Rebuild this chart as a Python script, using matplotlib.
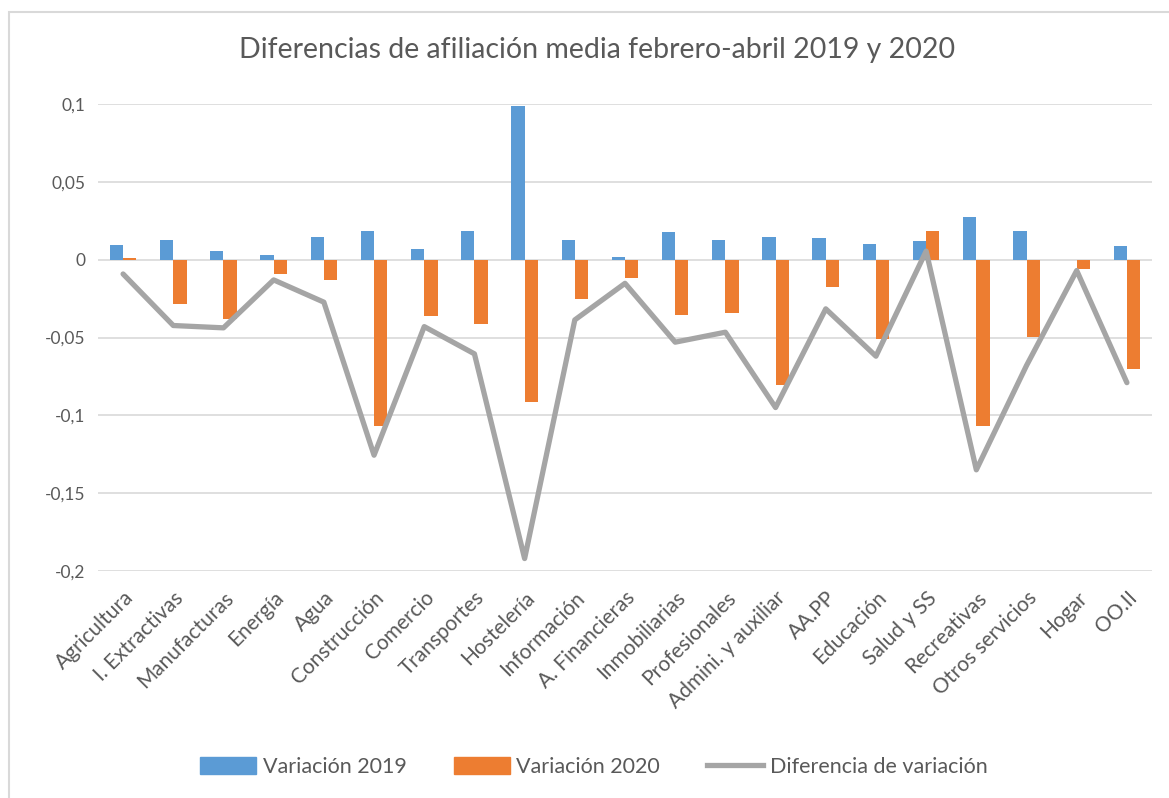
#!/usr/bin/env python3
"""Diferencias de afiliación media febrero-abril 2019 y 2020."""

import numpy as np
import matplotlib

matplotlib.use("Agg")
import matplotlib.pyplot as plt
from matplotlib.lines import Line2D
from matplotlib.patches import Patch, Rectangle
from matplotlib.ticker import FuncFormatter


sectores = [
    "Agricultura", "I. Extractivas", "Manufacturas", "Energía", "Agua",
    "Construcción", "Comercio", "Transportes", "Hostelería", "Información",
    "A. Financieras", "Inmobiliarias", "Profesionales", "Admini. y auxiliar",
    "AA.PP", "Educación", "Salud y SS", "Recreativas", "Otros servicios",
    "Hogar", "OO.II",
]
variacion_2019 = [
    0.0095, 0.0127, 0.0053, 0.0030, 0.0144, 0.0184, 0.0068, 0.0184, 0.0990,
    0.0128, 0.0020, 0.0177, 0.0128, 0.0145, 0.0136, 0.0102, 0.0120, 0.0277,
    0.0184, 0.0000, 0.0088,
]
variacion_2020 = [
    0.0010, -0.0282, -0.0380, -0.0094, -0.0128, -0.1070, -0.0359, -0.0414,
    -0.0917, -0.0250, -0.0118, -0.0357, -0.0340, -0.0808, -0.0175, -0.0510,
    0.0185, -0.1070, -0.0496, -0.0060, -0.0700,
]
diferencia = [
    -0.0092, -0.0423, -0.0438, -0.0130, -0.0273, -0.1256, -0.0430, -0.0605,
    -0.1920, -0.0387, -0.0152, -0.0530, -0.0466, -0.0950, -0.0316, -0.0620,
    0.0055, -0.1350, -0.0680, -0.0070, -0.0790,
]
y_ticks = [-0.2, -0.15, -0.1, -0.05, 0, 0.05, 0.1]

BLUE = "#5B9BD5"
ORANGE = "#ED7D31"
GREY = "#A5A5A5"
TEXT = "#595959"
GRID = "#D9D9D9"

plt.rcParams["font.family"] = ["Lato", "DejaVu Sans"]

fig = plt.figure(figsize=(11.69, 7.98), dpi=100)
ax = fig.add_axes([98 / 1169, 1 - 571 / 798, (1152 - 98) / 1169, (571 - 104) / 798])

x = np.arange(len(sectores))
w = 0.265
ax.bar(x - w / 2, variacion_2019, width=w, color=BLUE, zorder=2)
ax.bar(x + w / 2, variacion_2020, width=w, color=ORANGE, zorder=2)
ax.plot(x, diferencia, color=GREY, lw=3.8, solid_joinstyle="round",
        solid_capstyle="round", zorder=3)

ax.set_xlim(-0.5, len(sectores) - 0.5)
ax.set_ylim(-0.2, 0.1)
ax.set_yticks(y_ticks)
ax.yaxis.set_major_formatter(FuncFormatter(lambda v, _: f"{v:g}".replace(".", ",")))
ax.grid(axis="y", color=GRID, lw=1.2, zorder=0)
ax.set_axisbelow(True)
for s in ax.spines.values():
    s.set_visible(False)
ax.tick_params(axis="both", length=0, colors=TEXT)
ax.tick_params(axis="y", pad=9, labelsize=12.5)
ax.set_xticks(x)
ax.set_xticklabels(sectores, rotation=45, ha="right", va="top",
                   rotation_mode="anchor", fontsize=15)
ax.tick_params(axis="x", pad=12)

fig.text(0.511, 1 - 50 / 798, "Diferencias de afiliación media febrero-abril 2019 y 2020",
         ha="center", va="center", fontsize=20.5, color=TEXT)

handles = [
    Patch(color=BLUE, label="Variación 2019"),
    Patch(color=ORANGE, label="Variación 2020"),
    Line2D([0], [0], color=GREY, lw=3.8, label="Diferencia de variación"),
]
fig.legend(handles=handles, loc="center", bbox_to_anchor=(0.508, 1 - 767 / 798),
           ncol=3, frameon=False, fontsize=15.5, labelcolor=TEXT,
           handlelength=2.6, handleheight=0.8, columnspacing=2.2, handletextpad=0.3)

# chart area border (top and left visible in the crop)
fig.patches.append(Rectangle((9 / 1169, -0.1), 1.2, 1 - 12 / 798 + 0.1,
                             transform=fig.transFigure, fill=False,
                             edgecolor=GRID, lw=1.5))

fig.savefig("out.png", dpi=100)
